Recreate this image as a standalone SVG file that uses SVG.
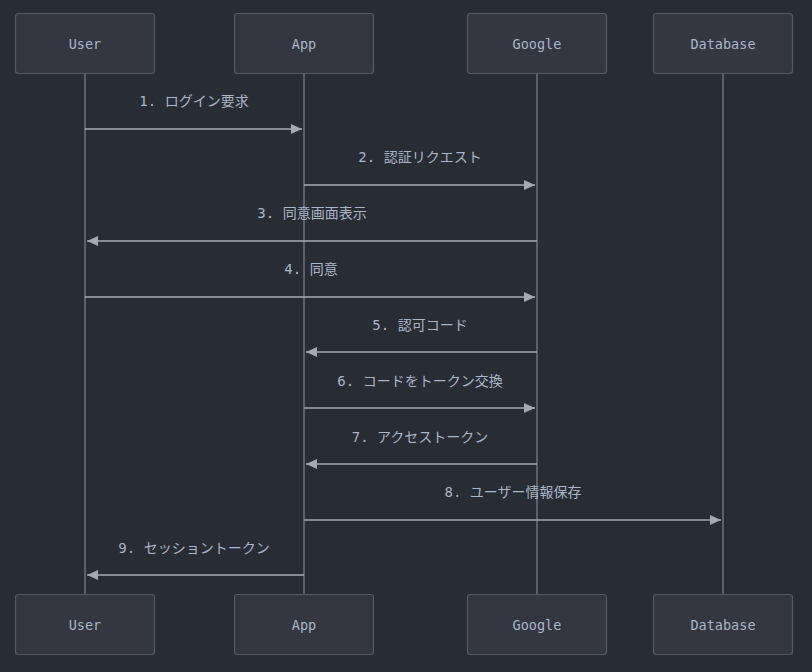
<svg xmlns="http://www.w3.org/2000/svg" width="812" height="672" viewBox="0 0 812 672">
<defs>
<style>
.actor rect{fill:#343741;stroke:#555a68;stroke-width:1.2}
.actor text{fill:#a9b6c8;font-family:"DejaVu Sans Mono","Liberation Mono",monospace;font-size:13.5px;text-anchor:middle;dominant-baseline:central}
.life{stroke:#6b7080;stroke-width:1.5}
.msg{stroke:#a6a9b3;stroke-width:1.5;fill:none}
.lbl{fill:#a9b6c8;font-family:"DejaVu Sans Mono","Noto Sans CJK JP",monospace;font-size:14px;text-anchor:middle;dominant-baseline:central;white-space:pre}
</style>
<marker id="ah" markerWidth="12" markerHeight="10" refX="11" refY="5" orient="auto" markerUnits="userSpaceOnUse">
<path d="M0,0 L11,5 L0,10 z" fill="#a6a9b3"/>
</marker>
</defs>
<rect width="812" height="672" fill="#282c34"/>
<g id="lifelines">
<line class="life" x1="85" y1="73" x2="85" y2="595"/>
<line class="life" x1="304" y1="73" x2="304" y2="595"/>
<line class="life" x1="537" y1="73" x2="537" y2="595"/>
<line class="life" x1="723" y1="73" x2="723" y2="595"/>
</g>
<g id="user-top" class="actor"><rect x="15.5" y="13.5" width="139" height="60" rx="3"/><text x="85" y="44">User</text></g>
<g id="app-top" class="actor"><rect x="234.5" y="13.5" width="139" height="60" rx="3"/><text x="304" y="44">App</text></g>
<g id="google-top" class="actor"><rect x="467.5" y="13.5" width="139" height="60" rx="3"/><text x="537" y="44">Google</text></g>
<g id="database-top" class="actor"><rect x="653.5" y="13.5" width="139" height="60" rx="3"/><text x="723" y="44">Database</text></g>
<g id="user-bottom" class="actor"><rect x="15.5" y="594.5" width="139" height="60" rx="3"/><text x="85" y="625">User</text></g>
<g id="app-bottom" class="actor"><rect x="234.5" y="594.5" width="139" height="60" rx="3"/><text x="304" y="625">App</text></g>
<g id="google-bottom" class="actor"><rect x="467.5" y="594.5" width="139" height="60" rx="3"/><text x="537" y="625">Google</text></g>
<g id="database-bottom" class="actor"><rect x="653.5" y="594.5" width="139" height="60" rx="3"/><text x="723" y="625">Database</text></g>
<g id="connectors">
<line class="msg" x1="85" y1="129" x2="302" y2="129" marker-end="url(#ah)"/>
<line class="msg" x1="304" y1="185" x2="535" y2="185" marker-end="url(#ah)"/>
<line class="msg" x1="537" y1="241" x2="87" y2="241" marker-end="url(#ah)"/>
<line class="msg" x1="85" y1="297" x2="535" y2="297" marker-end="url(#ah)"/>
<line class="msg" x1="537" y1="352" x2="306" y2="352" marker-end="url(#ah)"/>
<line class="msg" x1="304" y1="408" x2="535" y2="408" marker-end="url(#ah)"/>
<line class="msg" x1="537" y1="464" x2="306" y2="464" marker-end="url(#ah)"/>
<line class="msg" x1="304" y1="520" x2="721" y2="520" marker-end="url(#ah)"/>
<line class="msg" x1="304" y1="575" x2="87" y2="575" marker-end="url(#ah)"/>
</g>
<g id="labels">
<text class="lbl" x="194" y="101">1. ログイン要求</text>
<text class="lbl" x="420" y="157">2. 認証リクエスト</text>
<text class="lbl" x="312" y="213">3. 同意画面表示</text>
<text class="lbl" x="311" y="269">4. 同意</text>
<text class="lbl" x="420" y="325">5. 認可コード</text>
<text class="lbl" x="420" y="381">6. コードをトークン交換</text>
<text class="lbl" x="420" y="437">7. アクセストークン</text>
<text class="lbl" x="513" y="492">8. ユーザー情報保存</text>
<text class="lbl" x="194" y="548">9. セッショントークン</text>
</g>
</svg>
